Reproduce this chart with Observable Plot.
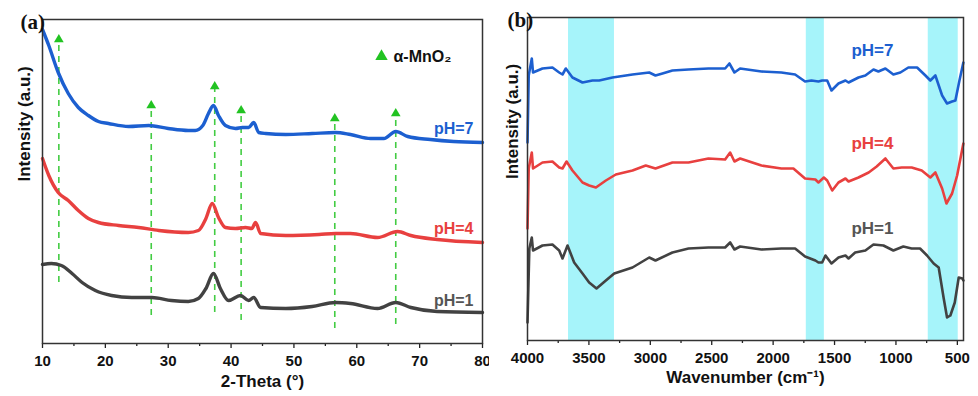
<!DOCTYPE html>
<html>
<head>
<meta charset="utf-8">
<script src="https://cdn.jsdelivr.net/npm/d3@7"></script>
<script src="https://cdn.jsdelivr.net/npm/@observablehq/plot@0.6"></script>
<style>
  html, body { margin: 0; padding: 0; background: #fff; }
  #wrap { display: flex; width: 978px; height: 396px; }
</style>
</head>
<body>
<div id="wrap"></div>
<script>
// ---------- Panel (a): XRD (2-Theta, intensity a.u.) ----------
const xrdPH7 = [[10,314],[11,298],[12.5,271],[14.1,250],[15.7,236],[17.3,228],[18.9,222],[20.5,220],[23.7,217],[26.9,218],[30,215],[33.2,213],[34.3,213],[35.5,218],[36.4,230],[37.2,238],[38,228],[39.1,218],[40.7,215],[41.8,216],[42.8,216],[43.6,221],[44.4,211],[45.5,210],[48.7,209],[52.9,210],[56.6,211],[59,209],[62.2,205],[64.3,205],[66.2,212],[68.1,207],[71.7,204],[75.4,202],[80,201]];
const xrdPH4 = [[10,185],[11,168],[12.5,151],[14.1,143],[15.7,133],[17.3,125],[18.9,121],[22.1,118],[25.3,116],[28.5,113],[33.2,111],[34.8,113],[36,125],[37,140],[38,126],[39.1,116],[40.7,115],[42.3,116],[43.3,115],[43.9,121],[44.7,110],[48.7,108],[54,109],[56.6,110],[59,110],[63.3,106],[66.5,112],[68.6,108],[72.8,104],[80,101]];
const xrdPH1 = [[10,79],[11.4,80],[13,78],[14.7,70],[16.3,61],[18.4,53],[21,48],[24.2,46],[27.4,46],[30.5,43],[33.2,42],[34.8,45],[36,55],[37.2,70],[38.3,55],[39.6,43],[41.5,48],[42.8,43],[43.6,46],[44.7,36],[48.7,35],[52.9,37],[56.6,41],[59,40],[63.3,35],[66.2,41],[68.6,36],[72.8,32],[80,31]];
// alpha-MnO2 reference reflections
const refTheta  = [12.6, 27.3, 37.4, 41.6, 56.5, 66.2];
const refTop    = [304, 238, 257, 233, 225, 230];
const refBottom = [61, 28, 31, 23, 15, 19];
const xMajorA = [10, 20, 30, 40, 50, 60, 70, 80];
const xMinorA = [15, 25, 35, 45, 55, 65, 75];

// ---------- Panel (b): FTIR (wavenumber, intensity a.u.) ----------
const ftirPH7 = [[4000,198],[3990,265],[3965,282],[3955,268],[3878,272],[3797,273],[3742,268],[3715,266],[3688,272],[3634,263],[3552,258],[3471,260],[3416,260],[3308,263],[3145,266],[3009,268],[2958,265],[2901,267],[2820,270],[2689,271],[2527,272],[2391,272],[2356,277],[2315,268],[2269,272],[2095,269],[1933,268],[1821,266],[1740,259],[1688,260],[1631,259],[1601,260],[1560,260],[1525,250],[1468,257],[1411,260],[1386,258],[1305,263],[1249,265],[1183,271],[1143,269],[1086,272],[1021,266],[964,268],[899,273],[828,273],[760,265],[720,260],[679,265],[624,245],[584,237],[543,239],[516,240],[483,260],[451,278]];
const ftirPH4 = [[4000,112],[3990,172],[3965,188],[3955,172],[3878,178],[3797,179],[3742,173],[3715,172],[3682,179],[3634,170],[3552,158],[3498,155],[3443,153],[3362,160],[3281,166],[3145,170],[3037,175],[2958,172],[2820,178],[2689,178],[2527,182],[2391,181],[2350,188],[2315,179],[2269,182],[2095,175],[1933,172],[1835,172],[1740,162],[1656,161],[1631,158],[1587,163],[1560,160],[1519,150],[1468,158],[1411,162],[1386,159],[1305,163],[1222,168],[1157,174],[1086,182],[1021,172],[953,173],[872,173],[790,170],[720,163],[679,168],[624,152],[589,137],[543,147],[502,165],[451,197]];
const ftirPH1 = [[4000,18],[3985,92],[3965,103],[3955,90],[3878,95],[3797,96],[3742,90],[3715,82],[3674,95],[3620,78],[3552,67],[3498,58],[3438,52],[3362,60],[3294,67],[3145,73],[3009,83],[2958,80],[2820,88],[2689,92],[2527,93],[2391,93],[2350,98],[2315,91],[2269,94],[2095,91],[1933,92],[1821,92],[1740,84],[1656,80],[1631,78],[1601,78],[1574,85],[1525,77],[1468,83],[1411,85],[1386,82],[1332,88],[1249,90],[1183,96],[1102,95],[1021,90],[940,94],[872,92],[804,92],[747,85],[693,77],[652,73],[611,42],[584,23],[557,25],[521,38],[489,63],[459,62],[451,60]];
// highlighted absorption bands
const bandStart = [3666, 1730, 737];
const bandEnd   = [3292, 1583, 493];
const xMajorB = [4000, 3500, 3000, 2500, 2000, 1500, 1000, 500];
const xMinorB = [3750, 3250, 2750, 2250, 1750, 1250, 750];

const seriesNames = ["pH=7", "pH=4", "pH=1"];

// ---------- styles ----------
const SANS = "'Liberation Sans', Arial, Helvetica, sans-serif";
const SERIF = "'Liberation Serif', 'Times New Roman', serif";
const BLUE = "#1c5fd0", RED = "#e8403f", GREY = "#424242", GREEN = "#22c322", CYAN = "#a6f4fa";
const X = d => d[0], Y = d => d[1];

function axes(major, minor) {
  return [
    Plot.axisX({ticks: major, tickSize: 5, tickPadding: 7, tickFormat: d => String(d), fontSize: 15, fontWeight: "bold", label: null, stroke: "#222", strokeWidth: 1.3}),
    Plot.axisX({ticks: minor, tickSize: 3, tickFormat: () => "", label: null, stroke: "#222", strokeWidth: 1.3})
  ];
}

const plotA = Plot.plot({
  width: 489, height: 396,
  marginLeft: 42, marginRight: 7, marginTop: 19, marginBottom: 53,
  x: {domain: [10, 80]},
  y: {domain: [0, 324], axis: null},
  style: {fontFamily: SANS, background: "white", color: "#111", overflow: "visible"},
  marks: [
    Plot.ruleX(refTheta.map((t, i) => ({t, top: refTop[i], bottom: refBottom[i]})),
      {x: "t", y1: "bottom", y2: "top", stroke: GREEN, strokeOpacity: 0.85, strokeWidth: 1.6, strokeDasharray: "6,5"}),
    Plot.line(xrdPH7, {x: X, y: Y, stroke: BLUE, strokeWidth: 3.4, curve: "monotone-x"}),
    Plot.line(xrdPH4, {x: X, y: Y, stroke: RED, strokeWidth: 3.4, curve: "monotone-x"}),
    Plot.line(xrdPH1, {x: X, y: Y, stroke: GREY, strokeWidth: 3.4, curve: "monotone-x"}),
    Plot.dot(refTheta.map((t, i) => ({t, top: refTop[i]})),
      {x: "t", y: "top", symbol: "triangle", r: 3.6, fill: GREEN, stroke: null}),
    Plot.text(xrdPH7, Plot.selectLast({x: X, y: Y, text: () => seriesNames[0], fill: BLUE, textAnchor: "end", dx: -9, dy: -14, fontSize: 16, fontWeight: "bold"})),
    Plot.text(xrdPH4, Plot.selectLast({x: X, y: Y, text: () => seriesNames[1], fill: RED, textAnchor: "end", dx: -9, dy: -14, fontSize: 16, fontWeight: "bold"})),
    Plot.text(xrdPH1, Plot.selectLast({x: X, y: Y, text: () => seriesNames[2], fill: "#555", textAnchor: "end", dx: -9, dy: -12, fontSize: 16, fontWeight: "bold"})),
    // legend
    Plot.dot(["α-MnO₂"], {frameAnchor: "top-right", dx: -101, dy: 37, symbol: "triangle", r: 4.6, fill: GREEN, stroke: null}),
    Plot.text(["α-MnO₂"], {frameAnchor: "top-right", dx: -89, dy: 37, lineAnchor: "middle", text: d => d, textAnchor: "start", fontSize: 16, fontWeight: "bold", fill: "#111"}),
    ...axes(xMajorA, xMinorA),
    Plot.frame({stroke: "#333", strokeWidth: 1.5}),
    Plot.text(["2-Theta (°)"], {frameAnchor: "bottom", dy: 38, lineAnchor: "middle", text: d => d, fontSize: 17, fontWeight: "bold", fill: "#111"}),
    Plot.text(["Intensity (a.u.)"], {frameAnchor: "left", dx: -18, rotate: -90, text: d => d, fontSize: 17, fontWeight: "bold", fill: "#111"}),
    Plot.text(["(a)"], {frameAnchor: "top-left", dx: -22, dy: 3, lineAnchor: "middle", text: d => d, fontSize: 21, fontWeight: "bold", fontFamily: SERIF, fill: "#111"})
  ]
});

const plotB = Plot.plot({
  width: 489, height: 396,
  marginLeft: 38, marginRight: 15, marginTop: 17, marginBottom: 56,
  x: {domain: [4000, 450]},
  y: {domain: [0, 323], axis: null},
  style: {fontFamily: SANS, background: "white", color: "#111", overflow: "visible"},
  marks: [
    Plot.rect(bandStart.map((s, i) => ({s, e: bandEnd[i]})), {x1: "s", x2: "e", fill: CYAN}),
    Plot.line(ftirPH7, {x: X, y: Y, stroke: BLUE, strokeWidth: 2.6}),
    Plot.line(ftirPH4, {x: X, y: Y, stroke: RED, strokeWidth: 2.6}),
    Plot.line(ftirPH1, {x: X, y: Y, stroke: GREY, strokeWidth: 2.6}),
    Plot.text([seriesNames[0]], {frameAnchor: "top-right", dx: -70, dy: 33, lineAnchor: "middle", text: d => d, fill: BLUE, fontSize: 17, fontWeight: "bold"}),
    Plot.text([seriesNames[1]], {frameAnchor: "top-right", dx: -70, dy: 126, lineAnchor: "middle", text: d => d, fill: RED, fontSize: 17, fontWeight: "bold"}),
    Plot.text([seriesNames[2]], {frameAnchor: "top-right", dx: -70, dy: 211, lineAnchor: "middle", text: d => d, fill: "#555", fontSize: 17, fontWeight: "bold"}),
    ...axes(xMajorB, xMinorB),
    Plot.frame({stroke: "#333", strokeWidth: 1.5}),
    Plot.text(["Wavenumber (cm⁻¹)"], {frameAnchor: "bottom", dy: 37, lineAnchor: "middle", text: d => d, fontSize: 17, fontWeight: "bold", fill: "#111"}),
    Plot.text(["Intensity (a.u.)"], {frameAnchor: "left", dx: -15, rotate: -90, text: d => d, fontSize: 17, fontWeight: "bold", fill: "#111"}),
    Plot.text(["(b)"], {frameAnchor: "top-left", dx: -20, dy: 3, lineAnchor: "middle", text: d => d, fontSize: 21, fontWeight: "bold", fontFamily: SERIF, fill: "#111"})
  ]
});

const wrap = document.getElementById("wrap");
wrap.appendChild(plotA);
wrap.appendChild(plotB);
</script>
</body>
</html>
